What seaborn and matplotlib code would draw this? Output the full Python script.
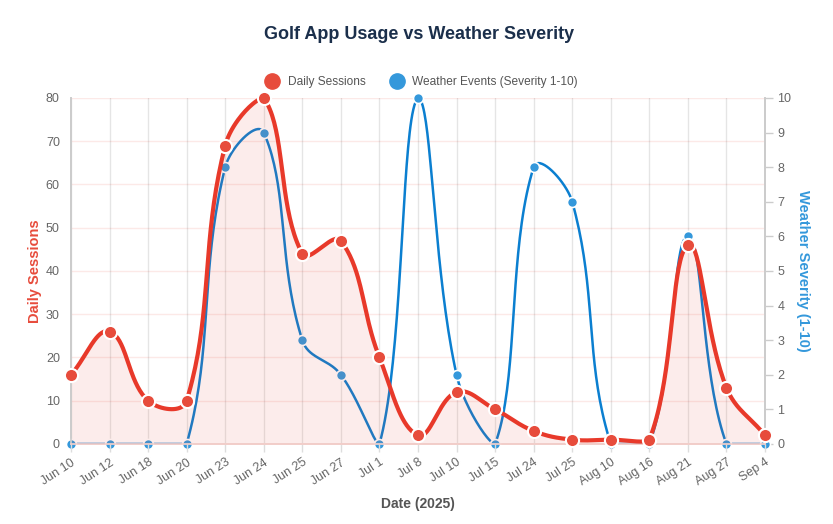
import numpy as np
import pandas as pd
import seaborn as sns
import matplotlib
matplotlib.use("Agg")
import matplotlib.pyplot as plt
from matplotlib.lines import Line2D

# data
dates = ["Jun 10", "Jun 12", "Jun 18", "Jun 20", "Jun 23", "Jun 24", "Jun 25", "Jun 27",
         "Jul 1", "Jul 8", "Jul 10", "Jul 15", "Jul 24", "Jul 25", "Aug 10", "Aug 16",
         "Aug 21", "Aug 27", "Sep 4"]
daily_sessions = [16, 26, 10, 10, 69, 80, 44, 47, 20, 2, 12, 8, 3, 1, 1, 1, 46, 13, 2]
weather_severity = [0, 0, 0, 0, 8, 9, 3, 2, 0, 10, 2, 0, 8, 7, 0, 0, 6, 0, 0]

RED = "#e74c3c"
RED_LINE = "#e8392a"
BLUE = "#3498db"
BLUE_LINE = "#0b7fd0"

sns.set_theme(style="white")
plt.rcParams["font.family"] = ["Liberation Sans", "DejaVu Sans"]


def smooth_curve(xs, ys, xscale, yscale, ymax, tension=0.4, n=40):
    # chart.js style cardinal spline, distances measured in pixel units
    px = np.asarray(xs, float) * xscale
    py = np.asarray(ys, float) * yscale
    cps = []
    for i in range(len(px)):
        p0 = (px[max(i - 1, 0)], py[max(i - 1, 0)])
        p1 = (px[i], py[i])
        p2 = (px[min(i + 1, len(px) - 1)], py[min(i + 1, len(px) - 1)])
        d01 = np.hypot(p1[0] - p0[0], p1[1] - p0[1])
        d12 = np.hypot(p2[0] - p1[0], p2[1] - p1[1])
        tot = d01 + d12
        s01 = d01 / tot if tot else 0
        s12 = d12 / tot if tot else 0
        fa, fb = tension * s01, tension * s12
        prev = [p1[0] - fa * (p2[0] - p0[0]), p1[1] - fa * (p2[1] - p0[1])]
        nxt = [p1[0] + fb * (p2[0] - p0[0]), p1[1] + fb * (p2[1] - p0[1])]
        for c in (prev, nxt):
            c[1] = min(max(c[1], 0), ymax * yscale)
        cps.append((prev, nxt))
    out_x, out_y = [], []
    t = np.linspace(0, 1, n)
    for i in range(len(px) - 1):
        a = np.array([px[i], py[i]])
        b = np.array(cps[i][1])
        c = np.array(cps[i + 1][0])
        d = np.array([px[i + 1], py[i + 1]])
        pts = ((1 - t) ** 3)[:, None] * a + (3 * (1 - t) ** 2 * t)[:, None] * b \
            + (3 * (1 - t) * t ** 2)[:, None] * c + (t ** 3)[:, None] * d
        out_x.extend(pts[:, 0] / xscale)
        out_y.extend(pts[:, 1] / yscale)
    return np.array(out_x), np.array(out_y)


idx = np.arange(len(dates))
df = pd.DataFrame({"idx": idx, "date": dates, "sessions": daily_sessions,
                   "severity": weather_severity})

fig = plt.figure(figsize=(8.33, 5.24), dpi=100)
ax = fig.add_axes([0.0852, 0.1527, 0.8332, 0.6603])
ax2 = ax.twinx()

xscale = 694 / 18
sx, sy = smooth_curve(idx, daily_sessions, xscale, 346 / 80, 80)
bx, by = smooth_curve(idx, weather_severity, xscale, 346 / 10, 10)

# red series on the left axis
ax.fill_between(sx, 0, sy, color=RED, alpha=0.1, linewidth=0, zorder=1)
sns.lineplot(x=sx, y=sy, ax=ax, color=RED_LINE, linewidth=3, sort=False,
             estimator=None, zorder=5)
sns.scatterplot(data=df, x="idx", y="sessions", ax=ax, color=RED, s=90,
                edgecolor="white", linewidth=1.5, zorder=6, clip_on=False)

# blue series on the right axis
sns.lineplot(x=bx, y=by, ax=ax2, color=BLUE_LINE, linewidth=1.8, sort=False,
             estimator=None, zorder=3)
sns.scatterplot(data=df, x="idx", y="severity", ax=ax2, color=BLUE, s=52,
                edgecolor="white", linewidth=1.2, zorder=4, clip_on=False)

# red axis above the blue one so red marks stay in front
ax.set_zorder(ax2.get_zorder() + 1)
ax.patch.set_visible(False)
ax2.patch.set_visible(True)
ax2.patch.set_facecolor("white")

ax.set_xlim(0, 18)
ax.set_ylim(0, 80)
ax2.set_ylim(0, 10)
ax.set_yticks(range(0, 81, 10))
ax2.set_yticks(range(0, 11, 1))
ax.set_xticks(idx)
ax.set_xticklabels(dates, rotation=33, ha="right", rotation_mode="anchor")

ax2.grid(False)
for y in range(0, 81, 10):
    ax2.axhline(y / 8, color=RED, alpha=0.12, linewidth=1, zorder=0)
for x in idx:
    ax2.axvline(x, color="black", alpha=0.1, linewidth=1, zorder=0)

ax.tick_params(axis="x", colors="#666666", labelsize=9, length=6, width=1,
               direction="out", pad=3, color="#dddddd", bottom=True)
ax.tick_params(axis="y", colors="#666666", labelsize=9, length=0, pad=8)
ax2.tick_params(axis="y", colors="#666666", labelsize=9, length=6, width=1,
                color="#cccccc", pad=3, right=True)
for a in (ax, ax2):
    a.spines["top"].set_visible(False)
    a.spines["left"].set_color("#cccccc")
    a.spines["right"].set_color("#cccccc")
    a.spines["bottom"].set_color("#f2cfcb")

ax.set_xlabel("Date (2025)", fontsize=10, fontweight="bold", color="#555555", labelpad=6)
ax.set_ylabel("Daily Sessions", fontsize=10.5, fontweight="bold", color=RED, labelpad=3)
ax2.set_ylabel("Weather Severity (1-10)", fontsize=10.5, fontweight="bold", color=BLUE,
               rotation=270, labelpad=13)

fig.suptitle("Golf App Usage vs Weather Severity", x=0.503, y=0.95, fontsize=13,
             fontweight="bold", color="#1b2f4b")

handles = [Line2D([], [], marker="o", linestyle="", markersize=11, color=RED),
           Line2D([], [], marker="o", linestyle="", markersize=11, color=BLUE)]
fig.legend(handles, ["Daily Sessions", "Weather Events (Severity 1-10)"],
           loc="center", bbox_to_anchor=(0.503, 0.843), ncol=2, frameon=False,
           fontsize=8.6, labelcolor="#555555", handletextpad=0.3, columnspacing=1.6)

plt.savefig("out.png", dpi=100)
